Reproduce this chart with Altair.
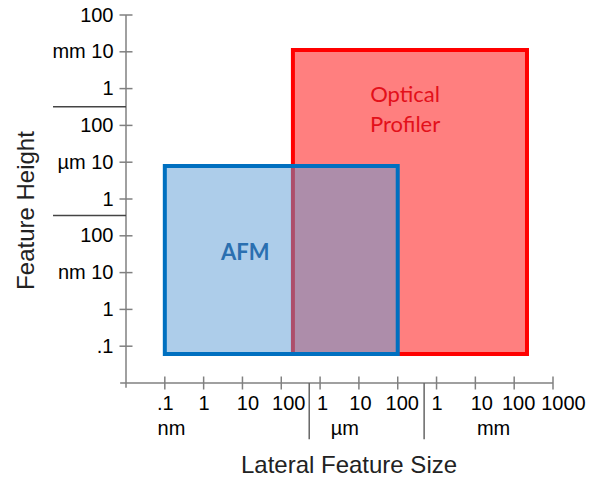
import json
import altair as alt
import pandas as pd

# ---- data (log10 of size in metres) ----
x_tick_values = list(range(-10, 1))
x_tick_labels = [".1", "1", "10", "100", "1", "10", "100", "1", "10", "100", "1000"]
x_label_nudge = [0, 0, 5, 7, 2, 1, 4, 0, 6, 4, 10]
y_tick_values = list(range(-10, 0))
y_tick_labels = [".1", "1", "nm 10", "100", "1", "µm 10", "100", "1", "mm 10", "100"]

instruments = ["Optical Profiler", "AFM"]
lateral_min = [-6.70, -10.0]
lateral_max = [-0.67, -4.0]
height_min = [-10.21, -10.21]
height_max = [-1.95, -5.10]
fill_colors = ["#ff0000", "#5b9bd5"]
stroke_colors = ["#ff0000", "#0070c0"]

optical_label = ["Optical", "Profiler"]
optical_label_x = -3.81
optical_label_y = -3.17
afm_label = "AFM"
afm_label_x = -7.93
afm_label_y = -7.46

x_unit_text = ["nm", "µm", "mm"]
x_unit_pos = [-9.83, -5.36, -1.53]
x_unit_y = -12.40

x_divider_pos = [-6.28, -3.32]
x_divider_end = -12.53
y_divider_pos = [-3.49, -6.45]
y_divider_end = -12.88

x_domain = [-11, 0]
y_domain = [-11, -1]

FONT = "Liberation Sans"
AXIS_GRAY = "#808080"

xs = alt.Scale(domain=x_domain, nice=False, zero=False)
ys = alt.Scale(domain=y_domain, nice=False, zero=False)

x_expr = json.dumps(x_tick_labels, ensure_ascii=False) + "[datum.value + 10]"
y_expr = json.dumps(y_tick_labels, ensure_ascii=False) + "[datum.value + 10]"

x_offset_cond = {
    "condition": [
        {"test": f"datum.value == {v}", "value": n}
        for v, n in zip(x_tick_values, x_label_nudge) if n != 0
    ],
    "value": 0,
}

x_axis = alt.Axis(
    values=x_tick_values, labelExpr=x_expr, ticks=False, tickSize=0, domain=False,
    grid=False, labelFont=FONT, labelFontSize=20, labelColor="#000000",
    labelPadding=10, labelFlush=False, labelOverlap=False, labelOffset=x_offset_cond,
    title="Lateral Feature Size", titleFont=FONT, titleFontSize=24,
    titleFontWeight="normal", titleColor="#222222", titleX=222.5, titleY=89.5,
    titleBaseline="alphabetic", titleAlign="center",
)
y_axis = alt.Axis(
    values=y_tick_values, labelExpr=y_expr, ticks=False, tickSize=0, domain=False,
    grid=False, labelFont=FONT, labelFontSize=20, labelColor="#000000",
    labelPadding=13, labelFlush=False, labelOverlap=False, labelBaseline="middle",
    title="Feature Height", titleFont=FONT, titleFontSize=24,
    titleFontWeight="normal", titleColor="#222222", titleX=-92.5, titleY=195,
    titleBaseline="alphabetic", titleAlign="center", titleAngle=270,
)


def X(field):
    return alt.X(field, scale=xs, axis=x_axis)


def Y(field):
    return alt.Y(field, scale=ys, axis=y_axis)


boxes = pd.DataFrame({
    "name": instruments, "x1": lateral_min, "x2": lateral_max,
    "y1": height_min, "y2": height_max,
})

rects = alt.Chart(boxes).mark_rect(fillOpacity=0.5, strokeOpacity=1, strokeWidth=4).encode(
    x=X("x1:Q"), x2="x2:Q", y=Y("y1:Q"), y2="y2:Q",
    fill=alt.Fill("name:N", scale=alt.Scale(domain=instruments, range=fill_colors), legend=None),
    stroke=alt.Stroke("name:N", scale=alt.Scale(domain=instruments, range=stroke_colors), legend=None),
)

# axis lines
xline = alt.Chart(pd.DataFrame({"a": [-11.15], "b": [0], "c": [-11]})).mark_rule(
    color=AXIS_GRAY, strokeWidth=1.5).encode(x=X("a:Q"), x2="b:Q", y=Y("c:Q"))
yline = alt.Chart(pd.DataFrame({"a": [-11.13], "b": [-1], "c": [-11]})).mark_rule(
    color=AXIS_GRAY, strokeWidth=1.5).encode(y=Y("a:Q"), y2="b:Q", x=X("c:Q"))

# crossing ticks
xticks = alt.Chart(pd.DataFrame({"v": x_tick_values, "c": [-11] * len(x_tick_values)})).mark_tick(
    orient="vertical", size=13, thickness=1.5, color=AXIS_GRAY, opacity=1).encode(
    x=X("v:Q"), y=Y("c:Q"))
yticks = alt.Chart(pd.DataFrame({"v": y_tick_values, "c": [-11] * len(y_tick_values)})).mark_tick(
    orient="horizontal", size=13, thickness=1.5, color=AXIS_GRAY, opacity=1).encode(
    y=Y("v:Q"), x=X("c:Q"))

# unit dividers
xdiv = alt.Chart(pd.DataFrame({"p": x_divider_pos, "s": [-11] * 2, "e": [x_divider_end] * 2})).mark_rule(
    color="#666666", strokeWidth=1.5).encode(x=X("p:Q"), y=Y("s:Q"), y2="e:Q")
ydiv = alt.Chart(pd.DataFrame({"p": y_divider_pos, "s": [-11] * 2, "e": [y_divider_end] * 2})).mark_rule(
    color="#444444", strokeWidth=1.5).encode(y=Y("p:Q"), x=X("s:Q"), x2="e:Q")

# unit labels on x
xunits = alt.Chart(pd.DataFrame({"t": x_unit_text, "p": x_unit_pos, "q": [x_unit_y] * 3})).mark_text(
    font=FONT, fontSize=20, color="#000000", baseline="alphabetic", align="center").encode(
    x=X("p:Q"), y=Y("q:Q"), text="t:N")

# box labels
opt_text = alt.Chart(pd.DataFrame({"x": [optical_label_x], "y": [optical_label_y]})).mark_text(
    text=optical_label, font="Lato", fontSize=22, baseline="middle", align="center",
    lineHeight=30, color="#e3101a").encode(x=X("x:Q"), y=Y("y:Q"))
afm_text = alt.Chart(pd.DataFrame({"x": [afm_label_x], "y": [afm_label_y]})).mark_text(
    text=afm_label, font="Lato", fontSize=22, fontWeight="bold", baseline="middle",
    align="center", color="#2a6fb0").encode(x=X("x:Q"), y=Y("y:Q"))

chart = alt.layer(rects, xline, yline, xticks, yticks, xdiv, ydiv, xunits, opt_text, afm_text).properties(
    width=427, height=368,
    padding={"left": 126, "top": 15, "right": 37, "bottom": 96},
    autosize="none",
    background="#ffffff",
).configure_view(stroke=None)

chart.save("out.html", embed_options={"renderer": "svg", "actions": False})
